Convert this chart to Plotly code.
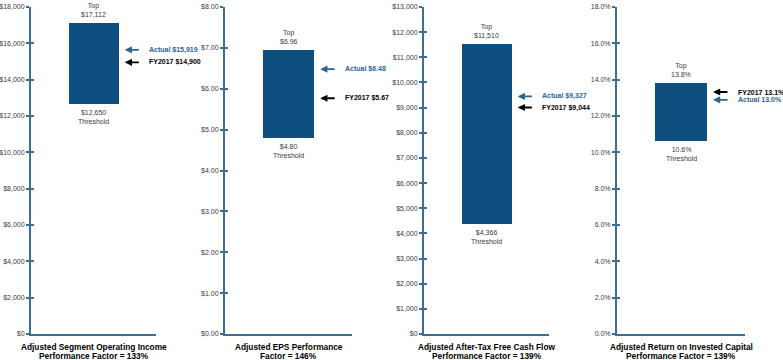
import plotly.graph_objects as go

# ---- data ----
titles = [
    "Adjusted Segment Operating Income<br>Performance Factor = 133%",
    "Adjusted EPS Performance<br>Factor = 146%",
    "Adjusted After-Tax Free Cash Flow<br>Performance Factor = 139%",
    "Adjusted Return on Invested Capital<br>Performance Factor = 139%",
]
threshold = [12650, 4.80, 4366, 10.6]
top = [17112, 6.96, 11510, 13.8]
actual = [15919, 6.48, 9327, 13.0]
fy2017 = [14900, 5.67, 9044, 13.1]
threshold_text = ["$12,650", "$4.80", "$4,366", "10.6%"]
top_text = ["$17,112", "$6.96", "$11,510", "13.8%"]
actual_text = ["$15,919", "$6.48", "$9,327", "13.0%"]
fy2017_text = ["$14,900", "$5.67", "$9,044", "13.1%"]
y_max = [18000, 8, 13000, 18]
y_step = [2000, 1, 1000, 2]
tick_prefix = ["$", "$", "$", ""]
tick_suffix = ["", "", "", "%"]
tick_format = [",.0f", ".2f", ",.0f", ".1f"]

# ---- style ----
BAR = "#0f4f80"
AXIS = "#3a6f98"
ACT = "#2c6490"
TXT = "#3a3a3a"
FONT = "Liberation Sans, Arial, sans-serif"

W, H = 783, 360
ml, mr, mt, mb = 31, 38, 7, 26
pw = W - ml - mr
axis_px = [(31, 156), (225, 352), (424, 549), (617, 745)]
domains = [((a - ml) / pw, min(1.0, (b - ml) / pw)) for a, b in axis_px]

# label pixel nudges to keep arrow labels apart
act_shift = [-5, 0, 3, -2]
fy_shift = [1, 4, -1, 4]

fig = go.Figure()
annotations = []
layout = {}

for i in range(4):
    n = "" if i == 0 else str(i + 1)
    xa, ya = "x" + n, "y" + n
    ov = str(5 + i)
    fig.add_trace(go.Bar(
        x=[0.5], y=[top[i] - threshold[i]], base=[threshold[i]], width=0.4,
        marker=dict(color=BAR, line=dict(width=0)), xaxis=xa, yaxis=ya,
        hoverinfo="skip", showlegend=False,
    ))
    layout["xaxis" + n] = dict(
        domain=list(domains[i]), range=[0, 1], showline=True, linecolor=AXIS,
        linewidth=2, showticklabels=False, ticks="", showgrid=False,
        zeroline=False, anchor=ya, fixedrange=True, automargin=False,
    )
    layout["yaxis" + n] = dict(
        range=[0, y_max[i]], dtick=y_step[i], tick0=0, showline=True,
        linecolor=AXIS, linewidth=2, ticks="outside", ticklen=3, tickwidth=1.5,
        tickcolor=AXIS, tickprefix=tick_prefix[i], ticksuffix=tick_suffix[i],
        tickformat=tick_format[i], tickfont=dict(size=7, color=TXT, family=FONT),
        showgrid=False, zeroline=False, anchor=xa, fixedrange=True,
        automargin=False,
    )
    # inside half of the crossing ticks
    layout["yaxis" + ov] = dict(
        range=[0, y_max[i]], dtick=y_step[i], tick0=0, overlaying=ya,
        anchor=xa, side="left", ticks="inside", ticklen=3, tickwidth=1.5,
        tickcolor=AXIS, showticklabels=False, showline=False, showgrid=False,
        zeroline=False, fixedrange=True, automargin=False,
    )
    fig.add_trace(go.Scatter(x=[None], y=[None], xaxis=xa, yaxis="y" + ov,
                             showlegend=False, hoverinfo="skip"))

    # top / threshold labels
    annotations.append(dict(
        x=0.5, y=top[i], xref=xa, yref=ya, text="Top<br>" + top_text[i],
        showarrow=False, yanchor="bottom", yshift=3,
        font=dict(size=7, color=TXT, family=FONT),
    ))
    annotations.append(dict(
        x=0.5, y=threshold[i], xref=xa, yref=ya,
        text=threshold_text[i] + "<br>Threshold",
        showarrow=False, yanchor="top", yshift=-3,
        font=dict(size=7, color=TXT, family=FONT),
    ))
    # arrows
    for val, txt, col, sh in [
        (actual[i], "Actual " + actual_text[i], ACT, act_shift[i]),
        (fy2017[i], "FY2017 " + fy2017_text[i], "#000000", fy_shift[i]),
    ]:
        annotations.append(dict(
            x=0.75, y=val, xref=xa, yref=ya, ax=0.875, ay=val,
            axref=xa, ayref=ya, text="", showarrow=True, arrowhead=2,
            arrowsize=0.8, arrowwidth=1.8, arrowcolor=col, yshift=sh,
            standoff=0, startstandoff=0,
        ))
        annotations.append(dict(
            x=0.93, y=val, xref=xa, yref=ya, text="<b>" + txt + "</b>",
            showarrow=False, xanchor="left", yanchor="middle", yshift=sh,
            font=dict(size=7, color=col, family=FONT),
        ))
    # bottom title, one annotation per line
    for k, line in enumerate(titles[i].split("<br>")):
        annotations.append(dict(
            x=0.5, y=0, xref=xa, yref="paper", text="<b>" + line + "</b>",
            showarrow=False, yanchor="middle", yshift=-13 - 9 * k,
            font=dict(size=8.3, color="#000000", family=FONT),
        ))

fig.update_layout(
    width=W, height=H, margin=dict(l=ml, r=mr, t=mt, b=mb, autoexpand=False),
    paper_bgcolor="white", plot_bgcolor="white", annotations=annotations,
    bargap=0, **layout,
)
fig.write_html(
    "out.html",
    config={"displayModeBar": False},
    post_script="document.body.style.margin='0';document.body.style.overflow='hidden';",
)
